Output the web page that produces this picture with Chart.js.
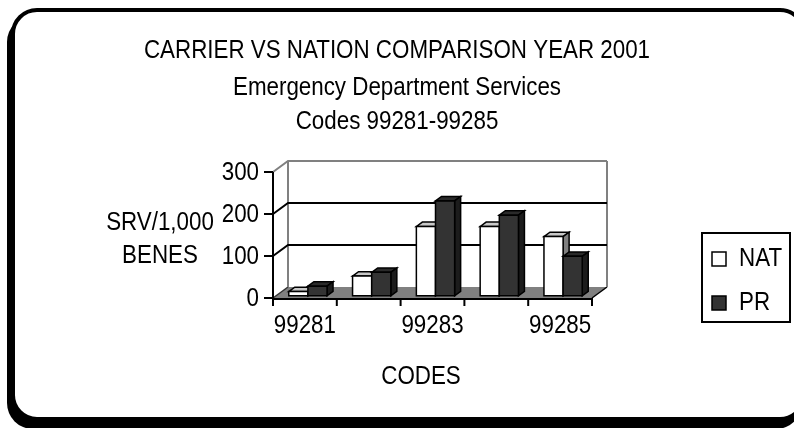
<!DOCTYPE html>
<html>
<head>
<meta charset="utf-8">
<script src="https://cdn.jsdelivr.net/npm/chart.js@4.4.1/dist/chart.umd.min.js"></script>
<style>
  html, body { margin: 0; padding: 0; background: #fff; overflow: hidden; }
  #wrap { position: relative; width: 794px; height: 428px; overflow: hidden; }
  #frame {
    position: absolute; left: 11px; top: 8px; width: 795px; height: 413px;
    box-sizing: border-box; border: 4px solid #000; border-radius: 26px;
    box-shadow: -4px 8px 0 #000; background: #fff;
  }
  #chart { position: absolute; left: 0; top: 0; }
</style>
</head>
<body>
<div id="wrap">
  <div id="frame"></div>
  <canvas id="chart" width="794" height="428"></canvas>
</div>
<script>
const codes = ["99281", "99282", "99283", "99284", "99285"];
const natValues = [10, 47, 165, 165, 141];
const prValues = [23, 56, 226, 192, 94];
const yTicks = [0, 100, 200, 300];
const titleLines = ["CARRIER VS NATION COMPARISON YEAR 2001", "Emergency Department Services", "Codes 99281-99285"];

const FONT = '"Liberation Sans", Arial, sans-serif';
const SQUEEZE = 0.86;                   // narrow lettering
const DEPTH = { x: 15, y: -11 };        // back wall offset from the front axes
const BAR_FRONT = 0.2, BAR_BACK = 0.6;  // where the columns sit inside the box
const faces = [
  { front: "#ffffff", top: "#c8c8c8", side: "#808080" },
  { front: "#333333", top: "#2a2a2a", side: "#1c1c1c" }
];

function line(ctx, pts, color, width) {
  ctx.beginPath();
  ctx.moveTo(pts[0][0], pts[0][1]);
  for (let i = 1; i < pts.length; i++) ctx.lineTo(pts[i][0], pts[i][1]);
  ctx.strokeStyle = color;
  ctx.lineWidth = width;
  ctx.stroke();
}

function poly(ctx, pts, fill) {
  ctx.beginPath();
  ctx.moveTo(pts[0][0], pts[0][1]);
  for (let i = 1; i < pts.length; i++) ctx.lineTo(pts[i][0], pts[i][1]);
  ctx.closePath();
  ctx.fillStyle = fill;
  ctx.fill();
  ctx.strokeStyle = "#000";
  ctx.lineWidth = 1.5;
  ctx.stroke();
}

function text(ctx, str, x, y, align) {
  ctx.save();
  ctx.translate(x, y);
  ctx.scale(SQUEEZE, 1);
  ctx.font = "26px " + FONT;
  ctx.fillStyle = "#000";
  ctx.textAlign = align || "center";
  ctx.textBaseline = "middle";
  ctx.fillText(str, 0, 0);
  ctx.restore();
}

const box3d = {
  id: "box3d",
  beforeDatasetsDraw(chart) {
    const { ctx, chartArea: a, scales: { y } } = chart;
    const dx = DEPTH.x, dy = DEPTH.y;
    ctx.save();
    // floor
    ctx.beginPath();
    ctx.moveTo(a.left, a.bottom);
    ctx.lineTo(a.right, a.bottom);
    ctx.lineTo(a.right + dx, a.bottom + dy);
    ctx.lineTo(a.left + dx, a.bottom + dy);
    ctx.closePath();
    ctx.fillStyle = "#808080";
    ctx.fill();
    line(ctx, [[a.left, a.bottom], [a.left + dx, a.bottom + dy]], "#333", 1.5);
    line(ctx, [[a.right, a.bottom], [a.right + dx, a.bottom + dy]], "#000", 1.5);
    // back wall edges
    line(ctx, [[a.left + dx, a.bottom + dy], [a.left + dx, a.top + dy]], "#808080", 2);
    line(ctx, [[a.right + dx, a.bottom + dy], [a.right + dx, a.top + dy]], "#808080", 2);
    // gridlines across the side and back walls
    yTicks.forEach(v => {
      if (v === 0) return;
      const py = y.getPixelForValue(v);
      const col = v === y.max ? "#808080" : "#000";
      line(ctx, [[a.left, py], [a.left + dx, py + dy], [a.right + dx, py + dy]], col, 2);
    });
    ctx.restore();
  },
  afterDatasetsDraw(chart) {
    const { ctx, chartArea: a, scales: { x, y } } = chart;
    const ox = DEPTH.x * BAR_FRONT, oy = DEPTH.y * BAR_FRONT;
    const ddx = DEPTH.x * (BAR_BACK - BAR_FRONT), ddy = DEPTH.y * (BAR_BACK - BAR_FRONT);
    ctx.save();
    codes.forEach((c, i) => {
      chart.data.datasets.forEach((ds, di) => {
        const el = chart.getDatasetMeta(di).data[i];
        const p = el.getProps(["x", "y", "base", "width"], true);
        const l = p.x - p.width / 2 + ox, r = p.x + p.width / 2 + ox;
        const t = p.y + oy, b = p.base + oy;
        const f = faces[di];
        poly(ctx, [[l, t], [l + ddx, t + ddy], [r + ddx, t + ddy], [r, t]], f.top);
        poly(ctx, [[r, t], [r + ddx, t + ddy], [r + ddx, b + ddy], [r, b]], f.side);
        poly(ctx, [[l, t], [r, t], [r, b], [l, b]], f.front);
      });
    });
    // front axes with tick marks and labels
    line(ctx, [[a.left, a.top], [a.left, a.bottom]], "#000", 2);
    y.ticks.forEach(t => {
      const py = y.getPixelForValue(t.value);
      line(ctx, [[a.left - 9, py], [a.left, py]], "#000", 2);
      text(ctx, String(t.value), a.left - 14, py + 1, "right");
    });
    line(ctx, [[a.left, a.bottom + 1], [a.right, a.bottom + 1]], "#000", 2);
    const step = (a.right - a.left) / codes.length;
    for (let k = 0; k <= codes.length; k++) {
      const px = x.getPixelForTick(0) - step / 2 + k * step;
      line(ctx, [[px, a.bottom], [px, a.bottom + 8]], "#000", 2);
    }
    codes.forEach((c, i) => {
      if (i % 2 === 0) text(ctx, c, x.getPixelForTick(i), a.bottom + 28);
    });
    ctx.restore();
  },
  afterDraw(chart) {
    const { ctx } = chart;
    ctx.save();
    text(ctx, titleLines[0], 397, 51);
    text(ctx, titleLines[1], 397, 88);
    text(ctx, titleLines[2], 397, 122);
    text(ctx, "SRV/1,000", 160, 223);
    text(ctx, "BENES", 160, 256);
    text(ctx, "CODES", 421, 377);
    // legend
    ctx.strokeStyle = "#000";
    ctx.lineWidth = 2;
    ctx.strokeRect(702, 233, 88, 89);
    chart.data.datasets.forEach((ds, di) => {
      const cy = 259 + di * 44;
      ctx.fillStyle = faces[di].front;
      ctx.fillRect(712, cy - 7, 14, 14);
      ctx.lineWidth = 1.5;
      ctx.strokeRect(712, cy - 7, 14, 14);
      text(ctx, ds.label, 739, cy, "left");
    });
    ctx.restore();
  }
};

new Chart(document.getElementById("chart"), {
  type: "bar",
  data: {
    labels: codes,
    datasets: [
      { label: "NAT", data: natValues, backgroundColor: "rgba(0,0,0,0)", borderWidth: 0, categoryPercentage: 0.6, barPercentage: 1 },
      { label: "PR", data: prValues, backgroundColor: "rgba(0,0,0,0)", borderWidth: 0, categoryPercentage: 0.6, barPercentage: 1 }
    ]
  },
  options: {
    responsive: false,
    animation: false,
    devicePixelRatio: 1,
    layout: { padding: { left: 213, right: 202, top: 172, bottom: 90 } },
    plugins: {
      legend: { display: false },
      title: { display: false },
      tooltip: { enabled: false }
    },
    scales: {
      x: {
        grid: { display: false, drawTicks: false },
        border: { display: false },
        ticks: { display: false },
        afterFit: s => { s.height = 40; }
      },
      y: {
        min: 0,
        max: 300,
        grid: { display: false, drawTicks: false },
        border: { display: false },
        ticks: { display: false, stepSize: 100 },
        afterFit: s => { s.width = 60; }
      }
    }
  },
  plugins: [box3d]
});
</script>
</body>
</html>
